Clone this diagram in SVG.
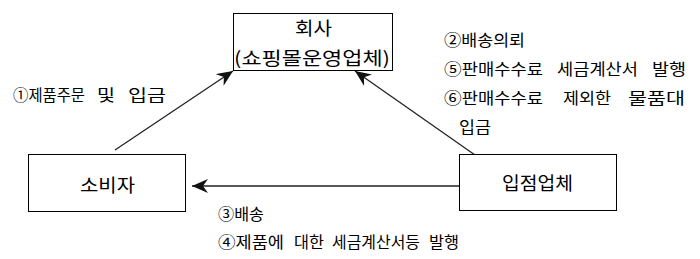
<svg xmlns="http://www.w3.org/2000/svg" width="700" height="259" viewBox="0 0 700 259">
<style>
.box{fill:#fff;stroke:#000;stroke-width:1}
.t{font-family:"Noto Sans CJK KR","Noto Sans",sans-serif;fill:#000}
.big{font-size:18px}
.lbl{font-size:16px}
.conn{stroke:#222;stroke-width:1.3;fill:none}
</style>
<defs>
<marker id="ah" markerUnits="userSpaceOnUse" markerWidth="16" markerHeight="14" refX="16" refY="7" orient="auto" viewBox="0 0 16 14">
<path d="M0,0 L16,7 L0,14 L5,7 Z" fill="#111"/>
</marker>
</defs>
<rect width="700" height="259" fill="#fff"/>
<g id="connectors">
<line class="conn" x1="115" y1="150" x2="233" y2="71" marker-end="url(#ah)"/>
<line class="conn" x1="475" y1="155" x2="355" y2="71" marker-end="url(#ah)"/>
<line class="conn" x1="459" y1="186" x2="192" y2="186" marker-end="url(#ah)"/>
</g>
<g id="company">
<rect class="box" x="233.5" y="13.5" width="159" height="57"/>
<text class="t big" x="295" y="35" textLength="37" lengthAdjust="spacingAndGlyphs">회사</text>
<text class="t big" x="234" y="65" textLength="156" lengthAdjust="spacingAndGlyphs">(쇼핑몰운영업체)</text>
</g>
<g id="consumer">
<rect class="box" x="28.5" y="154.5" width="157" height="57"/>
<text class="t big" x="80" y="192" textLength="55" lengthAdjust="spacingAndGlyphs">소비자</text>
</g>
<g id="vendor">
<rect class="box" x="459.5" y="154.5" width="157" height="56"/>
<text class="t big" x="502" y="190" textLength="71" lengthAdjust="spacingAndGlyphs">입점업체</text>
</g>
<g id="labels">
<text class="t lbl" x="13" y="101" textLength="72" lengthAdjust="spacingAndGlyphs">①제품주문</text>
<text class="t lbl" x="97" y="101" textLength="18" lengthAdjust="spacingAndGlyphs">및</text>
<text class="t lbl" x="128" y="101" textLength="38" lengthAdjust="spacingAndGlyphs">입금</text>

<text class="t lbl" x="444" y="46" textLength="81" lengthAdjust="spacingAndGlyphs">②배송의뢰</text>
<text class="t lbl" x="444" y="75" textLength="99" lengthAdjust="spacingAndGlyphs">⑤판매수수료</text>
<text class="t lbl" x="557" y="75" textLength="81" lengthAdjust="spacingAndGlyphs">세금계산서</text>
<text class="t lbl" x="652" y="75" textLength="34" lengthAdjust="spacingAndGlyphs">발행</text>
<text class="t lbl" x="444" y="104" textLength="99" lengthAdjust="spacingAndGlyphs">⑥판매수수료</text>
<text class="t lbl" x="563" y="104" textLength="48" lengthAdjust="spacingAndGlyphs">제외한</text>
<text class="t lbl" x="628" y="104" textLength="57" lengthAdjust="spacingAndGlyphs">물품대</text>
<text class="t lbl" x="459" y="133" textLength="32" lengthAdjust="spacingAndGlyphs">입금</text>

<text class="t lbl" x="218" y="220" textLength="46" lengthAdjust="spacingAndGlyphs">③배송</text>
<text class="t lbl" x="218" y="248" textLength="66" lengthAdjust="spacingAndGlyphs">④제품에</text>
<text class="t lbl" x="294" y="248" textLength="30" lengthAdjust="spacingAndGlyphs">대한</text>
<text class="t lbl" x="332" y="248" textLength="88" lengthAdjust="spacingAndGlyphs">세금계산서등</text>
<text class="t lbl" x="429" y="248" textLength="30" lengthAdjust="spacingAndGlyphs">발행</text>
</g>
</svg>
